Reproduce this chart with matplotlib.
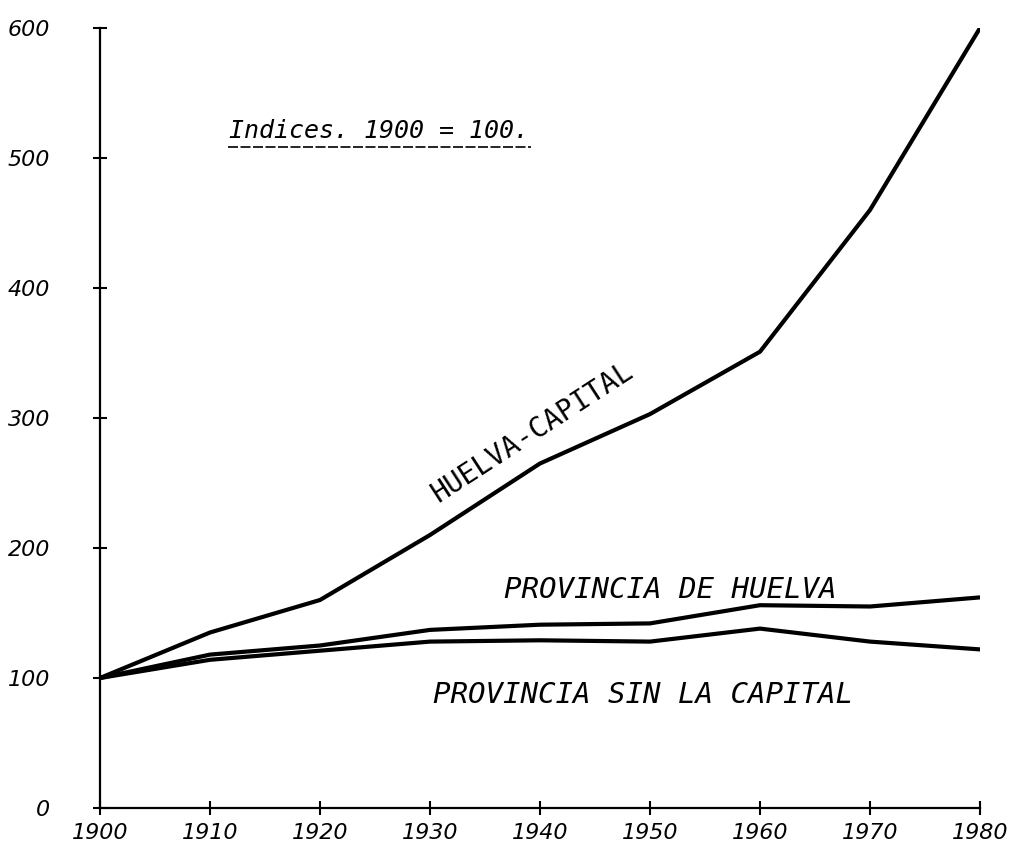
import matplotlib.pyplot as plt
import numpy as np

# indices 1900 = 100
years = [1900, 1910, 1920, 1930, 1940, 1950, 1960, 1970, 1980]
huelva_capital = [100, 135, 160, 210, 265, 303, 351, 460, 600]
provincia = [100, 118, 125, 137, 141, 142, 156, 155, 162]
sin_capital = [100, 114, 121, 128, 129, 128, 138, 128, 122]

yticks = [0, 100, 200, 300, 400, 500, 600]

mono = ['DejaVu Sans Mono']
tickfont = ['DejaVu Sans']

fig = plt.figure(figsize=(10.13, 8.49), dpi=100)
ax = fig.add_axes([100/1013, 41/849, 880/1013, 780/849])

for s in [huelva_capital, provincia, sin_capital]:
    ax.plot(years, s, color='black', lw=3.0, solid_joinstyle='round')

ax.set_xlim(1900, 1980)
ax.set_ylim(0, 600)
ax.set_xticks(years)
ax.set_yticks(yticks)
ax.set_xticklabels([str(y) for y in years], family=tickfont, style='italic', fontsize=16)
ax.set_yticklabels([str(y) for y in yticks], family=tickfont, style='italic', fontsize=16)
ax.tick_params(axis='both', direction='inout', length=10, width=1.5)
ax.tick_params(axis='y', pad=31)
ax.tick_params(axis='x', pad=6)

for side in ['top', 'right']:
    ax.spines[side].set_visible(False)
for side in ['left', 'bottom']:
    ax.spines[side].set_linewidth(1.6)

ax.text(1951.8, 157, 'PROVINCIA DE HUELVA', family=mono, style='italic', fontsize=21,
        ha='center', va='bottom')
ax.text(1949.4, 98, 'PROVINCIA SIN LA CAPITAL', family=mono, style='italic', fontsize=21,
        ha='center', va='top')
ax.text(1939.3, 289, 'HUELVA-CAPITAL', family=mono, fontsize=20, rotation=33,
        ha='center', va='center', rotation_mode='anchor')

ax.text(0.147, 0.859, 'Indices. 1900 = 100.', transform=ax.transAxes, family=mono,
        style='italic', fontsize=18, ha='left', va='baseline')
ax.plot([0.145, 0.49], [0.847, 0.847], transform=ax.transAxes, color='black', lw=1.2,
        ls=(0, (6, 1.5)), clip_on=False)

fig.savefig('out.png', dpi=100)
